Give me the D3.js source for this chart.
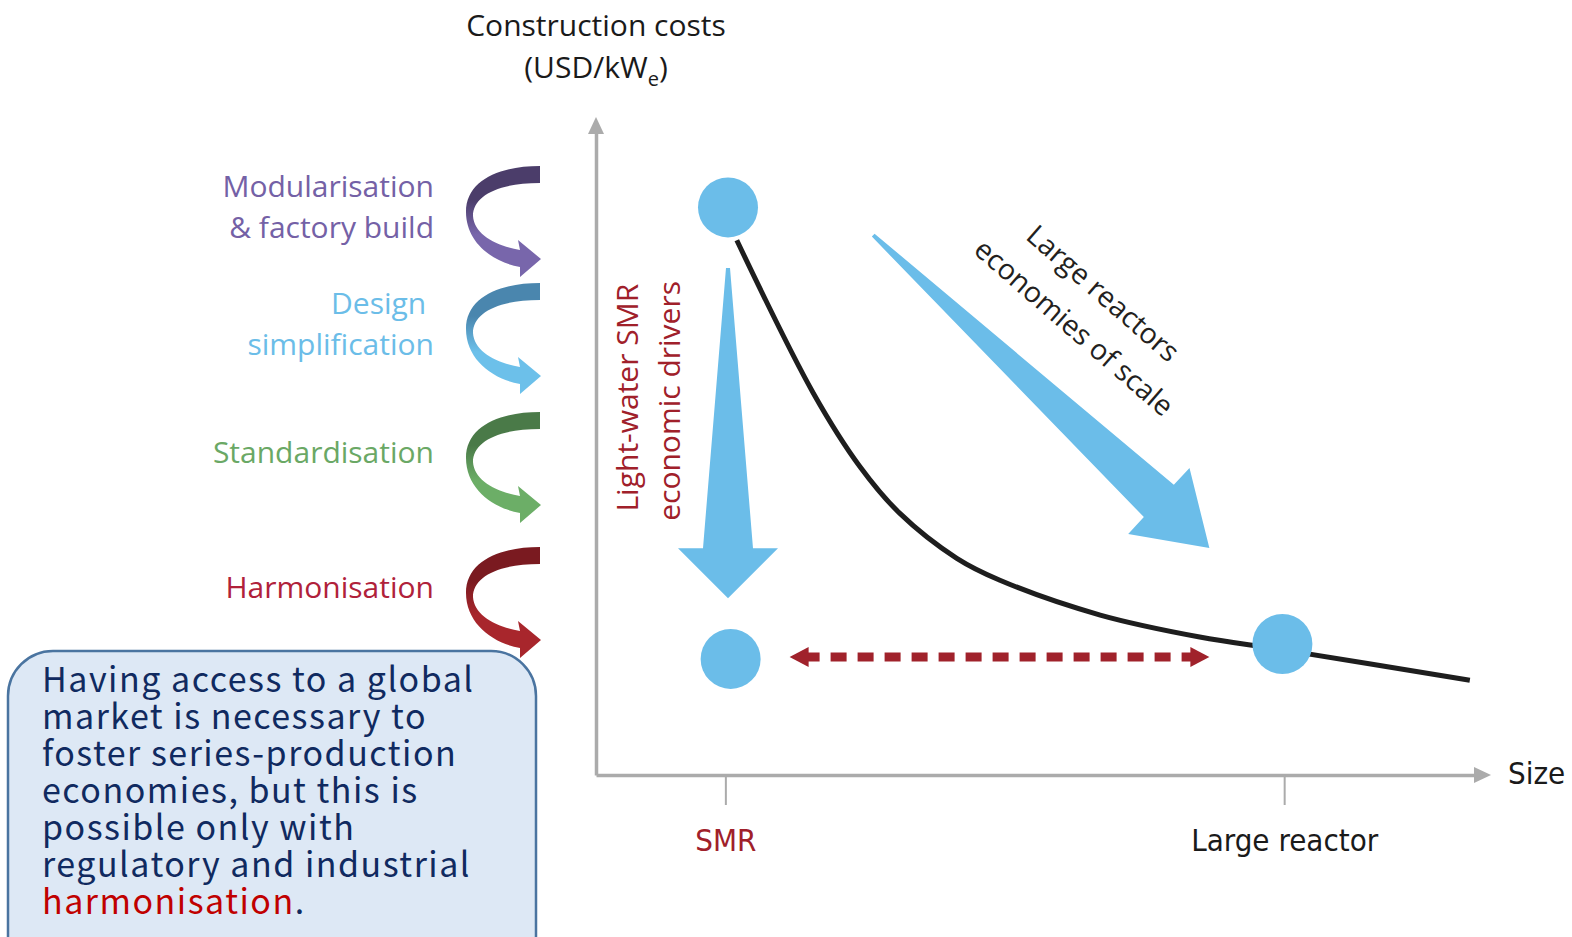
<!DOCTYPE html>
<html>
<head>
<meta charset="utf-8">
<script src="https://cdn.jsdelivr.net/npm/d3@7/dist/d3.min.js"></script>
<style>
body { margin: 0; background: #fff; }
svg { display: block; }
</style>
</head>
<body>
<div id="chart"></div>
<script>
// Concept data: size (x) vs construction cost (y), arbitrary units 0-10
const curveSize = [1.60, 2.47, 3.00, 3.45, 4.10, 4.59, 5.73, 6.86, 7.81, 9.93];
const curveCost = [8.29, 5.92, 4.78, 4.06, 3.36, 3.02, 2.48, 2.14, 1.94, 1.47];

// Circles: SMR without drivers, SMR with drivers, large reactor
const pointSize = [1.50, 1.53, 7.80];
const pointCost = [8.80, 1.80, 2.03];

// x axis categories
const sizeCategories = ['SMR', 'Large reactor'];
const sizeTicks = [1.47, 7.82];
const categoryColors = ['#a0202a', '#1a1a1a'];

// Left side drivers
const drivers = [['Modularisation', '& factory build'], ['Design\u00A0', 'simplification'], ['Standardisation'], ['Harmonisation']];
const driverText = ['#7461a6', '#6bbde8', '#6aa865', '#b0213a'];
const driverTop = ['#4b3d6a', '#4a86ae', '#4a7a48', '#7a1a20'];
const driverBottom = ['#7866ab', '#6cc0ea', '#6cae67', '#a8262c'];

// Big blue arrows [fromSize, fromCost, toSize, toCost]
const smrArrow = [1.50, 7.86, 1.50, 2.74];
const scaleArrow = [3.15, 8.37, 6.97, 3.52];
// Red dashed double arrow
const gapArrow = [2.20, 6.97, 1.83];

const boxLines = ['Having access to a global', 'market is necessary to', 'foster series-production',
  'economies, but this is', 'possible only with', 'regulatory and industrial'];

const W = 1572, H = 937;
const svg = d3.select('#chart').append('svg').attr('width', W).attr('height', H);

const x = d3.scaleLinear().domain([0, 10]).range([596, 1476]);
const y = d3.scaleLinear().domain([0, 10]).range([775, 130]);

const openSans = "'Open Sans', sans-serif";
const narrow = "'Liberation Sans Narrow', 'DejaVu Sans Condensed', sans-serif";

// Title
let title = svg.append('text').attr('x', 596).attr('y', 36).attr('text-anchor', 'middle')
  .style('font-family', openSans).style('font-size', '30px').attr('fill', '#1a1a1a')
  .text('Construction costs');
let unit = svg.append('text').attr('x', 596).attr('y', 78).attr('text-anchor', 'middle')
  .style('font-family', openSans).style('font-size', '30px').attr('fill', '#1a1a1a');
unit.append('tspan').text('(USD/kW');
unit.append('tspan').attr('dy', 8).style('font-size', '20px').text('e');
unit.append('tspan').attr('dy', -8).text(')');

// Axes
const axisColor = '#ababab';
let xAxis = svg.append('g').attr('transform', 'translate(0,775)')
  .call(d3.axisBottom(x).tickValues(sizeTicks).tickFormat((d, i) => sizeCategories[i])
    .tickSize(30).tickSizeOuter(0).tickPadding(24));
xAxis.select('.domain').attr('stroke', axisColor).attr('stroke-width', 3.5);
xAxis.selectAll('.tick line').attr('stroke', axisColor).attr('stroke-width', 2);
xAxis.selectAll('.tick text').style('font-family', narrow).style('font-size', '31px')
  .attr('fill', (d, i) => categoryColors[i]);

let yAxis = svg.append('g').attr('transform', 'translate(596,0)')
  .call(d3.axisLeft(y).tickValues([]).tickSizeOuter(0));
yAxis.select('.domain').attr('stroke', axisColor).attr('stroke-width', 3.5);

// axis arrowheads
svg.append('path').attr('fill', axisColor)
  .attr('d', `M${x(10) - 2},${y(0) - 8}L${x(10) + 15},${y(0)}L${x(10) - 2},${y(0) + 8}Z`);
svg.append('path').attr('fill', axisColor)
  .attr('d', `M${x(0) - 8},${y(10) + 4}L${x(0)},${y(10) - 13}L${x(0) + 8},${y(10) + 4}Z`);

svg.append('text').attr('x', 1508).attr('y', 784)
  .style('font-family', narrow).style('font-size', '31px').attr('fill', '#1a1a1a').text('Size');

// Tapered arrow polygon
function taperedArrow(a, startHalf, shaftHalf, headHalf, headLen) {
  let x0 = x(a[0]), y0 = y(a[1]), x1 = x(a[2]), y1 = y(a[3]);
  let len = Math.hypot(x1 - x0, y1 - y0);
  let ux = (x1 - x0) / len, uy = (y1 - y0) / len;
  let px = -uy, py = ux;
  let bx = x1 - ux * headLen, by = y1 - uy * headLen;
  let pts = [
    [x0 + px * startHalf, y0 + py * startHalf],
    [bx + px * shaftHalf, by + py * shaftHalf],
    [bx + px * headHalf, by + py * headHalf],
    [x1, y1],
    [bx - px * headHalf, by - py * headHalf],
    [bx - px * shaftHalf, by - py * shaftHalf],
    [x0 - px * startHalf, y0 - py * startHalf]
  ];
  return 'M' + pts.map(p => p.join(',')).join('L') + 'Z';
}

const blue = '#6bbde9';
svg.append('path').attr('fill', blue).attr('d', taperedArrow(smrArrow, 2, 25, 50, 50));
svg.append('path').attr('fill', blue).attr('d', taperedArrow(scaleArrow, 2, 22, 45, 69));

// Cost curve
let line = d3.line().x(d => x(d[0])).y(d => y(d[1])).curve(d3.curveCatmullRom);
svg.append('path').datum(d3.zip(curveSize, curveCost))
  .attr('d', line).attr('fill', 'none').attr('stroke', '#1e1e1e').attr('stroke-width', 5);

// Circles
svg.selectAll('.pt').data(d3.zip(pointSize, pointCost)).enter().append('circle')
  .attr('class', 'pt').attr('cx', d => x(d[0])).attr('cy', d => y(d[1])).attr('r', 30)
  .attr('fill', blue);

// Red dashed double arrow
const red = '#a0222b';
let gx0 = x(gapArrow[0]), gx1 = x(gapArrow[1]), gy = y(gapArrow[2]);
svg.append('line').attr('x1', gx0 + 14).attr('x2', gx1 - 14).attr('y1', gy).attr('y2', gy)
  .attr('stroke', red).attr('stroke-width', 9).attr('stroke-dasharray', '16,11');
svg.append('path').attr('fill', red).attr('d', `M${gx0},${gy}L${gx0 + 19},${gy - 10}L${gx0 + 19},${gy + 10}Z`);
svg.append('path').attr('fill', red).attr('d', `M${gx1},${gy}L${gx1 - 19},${gy - 10}L${gx1 - 19},${gy + 10}Z`);

// Rotated annotations
let vt = svg.append('g').attr('fill', '#a0202a').style('font-family', openSans).style('font-size', '30px');
vt.append('text').attr('transform', `translate(${x(0.35)},${y(5.85)}) rotate(-90)`)
  .attr('text-anchor', 'middle').attr('dominant-baseline', 'central').text('Light-water SMR');
vt.append('text').attr('transform', `translate(${x(0.82)},${y(5.8)}) rotate(-90)`)
  .attr('text-anchor', 'middle').attr('dominant-baseline', 'central').text('economic drivers');

let dt = svg.append('g').attr('fill', '#231f20').style('font-family', openSans).style('font-size', '28.5px');
dt.append('text').attr('transform', `translate(${x(5.77)},${y(7.48)}) rotate(41)`)
  .attr('text-anchor', 'middle').attr('dominant-baseline', 'central').text('Large reactors');
dt.append('text').attr('transform', `translate(${x(5.44)},${y(6.95)}) rotate(41)`)
  .attr('text-anchor', 'middle').attr('dominant-baseline', 'central').text('economies of scale');

// Left curved driver arrows
const arrowTops = [166, 283, 412, 547];
const curlPath = 'M0,0 C-40,0 -74,14 -74,46 C-74,76 -48,96 -20,101 L-20,111 L1,93 L-22,74 L-20,84 ' +
  'C-44,80 -66,68 -67,50 C-67,30 -42,17 0,17 Z';
let defs = svg.append('defs');
drivers.forEach((lines, i) => {
  let grad = defs.append('linearGradient').attr('id', 'g' + i)
    .attr('x1', 0).attr('y1', 0).attr('x2', 0).attr('y2', 1);
  grad.append('stop').attr('offset', 0.3).attr('stop-color', driverTop[i]);
  grad.append('stop').attr('offset', 0.62).attr('stop-color', driverBottom[i]);
  svg.append('path').attr('transform', `translate(540,${arrowTops[i]})`)
    .attr('d', curlPath).attr('fill', `url(#g${i})`);
  let t = svg.append('text').attr('text-anchor', 'end').attr('fill', driverText[i])
    .style('font-family', openSans).style('font-size', '30px');
  let base = arrowTops[i] + 51 - (lines.length - 1) * 20;
  lines.forEach((s, j) => {
    t.append('tspan').attr('x', 434).attr('y', base + j * 41).text(s);
  });
});

// Text box
svg.append('rect').attr('x', 8).attr('y', 651).attr('width', 528).attr('height', 330).attr('rx', 45)
  .attr('fill', '#dde8f5').attr('stroke', '#4a74a0').attr('stroke-width', 2.5);
let box = svg.append('text').style('font-family', "'Noto Sans CJK JP', 'Noto Sans', sans-serif")
  .style('font-size', '34px').style('letter-spacing', '1.5px').attr('fill', '#102a60');
boxLines.forEach((s, j) => {
  box.append('tspan').attr('x', 42).attr('y', 692 + j * 37).text(s);
});
let last = box.append('tspan').attr('x', 42).attr('y', 692 + 6 * 37);
last.append('tspan').attr('fill', '#c00000').text('harmonisation');
last.append('tspan').text('.');
</script>
</body>
</html>
